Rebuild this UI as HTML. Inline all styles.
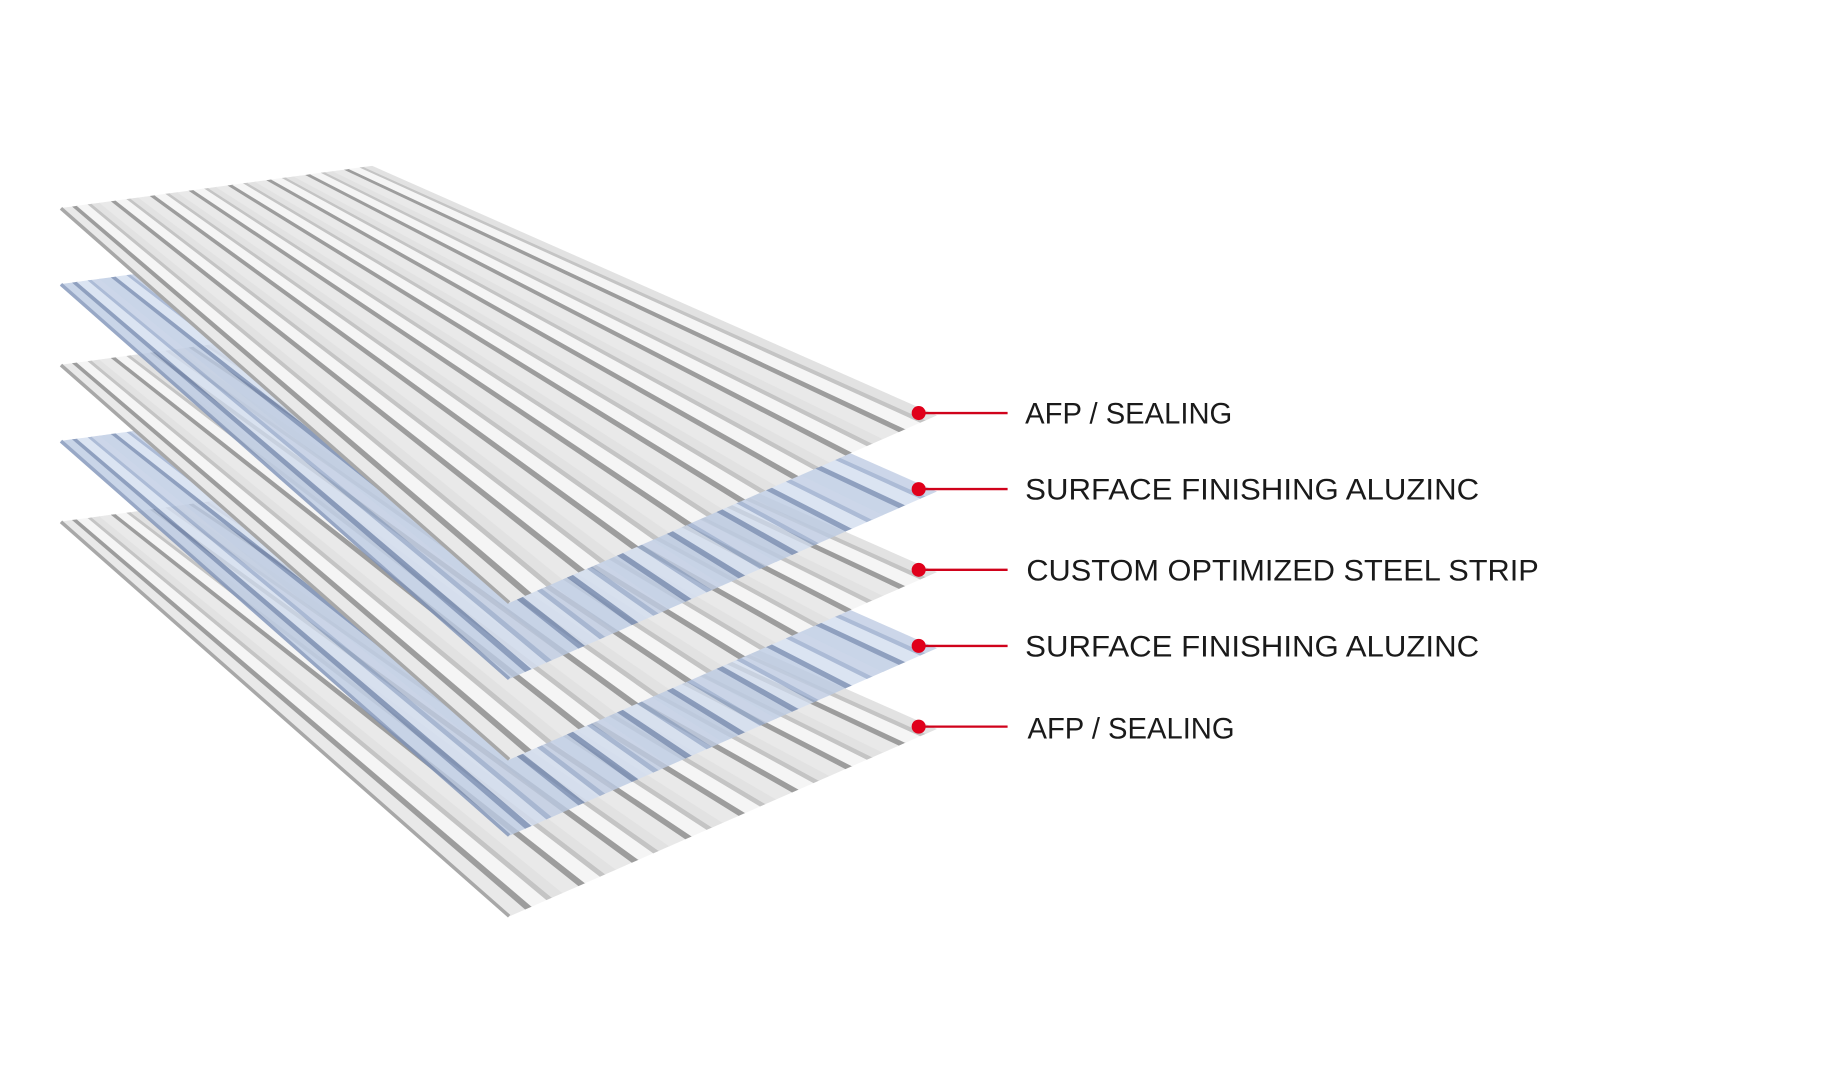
<!DOCTYPE html>
<html><head><meta charset="utf-8"><style>
html,body{margin:0;padding:0;background:#fff;}
svg{display:block;}
</style></head><body>
<svg id="s" width="1835" height="1080" viewBox="0 0 1568 923" xmlns="http://www.w3.org/2000/svg">
<g id="sheets"></g>
<g font-family="'Liberation Sans', Arial, sans-serif" font-size="25" fill="#1a1a1a">
<line x1="786" y1="353" x2="861" y2="353" stroke="#d0021b" stroke-width="2"/>
<circle cx="785" cy="353" r="6" fill="#e0001b"/>
<text x="876" y="362" textLength="177" lengthAdjust="spacingAndGlyphs">AFP / SEALING</text>
<line x1="786" y1="418" x2="861" y2="418" stroke="#d0021b" stroke-width="2"/>
<circle cx="785" cy="418" r="6" fill="#e0001b"/>
<text x="876" y="427" textLength="388" lengthAdjust="spacingAndGlyphs">SURFACE FINISHING ALUZINC</text>
<line x1="786" y1="487" x2="861" y2="487" stroke="#d0021b" stroke-width="2"/>
<circle cx="785" cy="487" r="6" fill="#e0001b"/>
<text x="877" y="496" textLength="438" lengthAdjust="spacingAndGlyphs">CUSTOM OPTIMIZED STEEL STRIP</text>
<line x1="786" y1="552" x2="861" y2="552" stroke="#d0021b" stroke-width="2"/>
<circle cx="785" cy="552" r="6" fill="#e0001b"/>
<text x="876" y="561" textLength="388" lengthAdjust="spacingAndGlyphs">SURFACE FINISHING ALUZINC</text>
<line x1="786" y1="621" x2="861" y2="621" stroke="#d0021b" stroke-width="2"/>
<circle cx="785" cy="621" r="6" fill="#e0001b"/>
<text x="878" y="631" textLength="177" lengthAdjust="spacingAndGlyphs">AFP / SEALING</text>
</g>
</svg>
<script>
(function(){
var g=document.getElementById('sheets');var NS='http://www.w3.org/2000/svg';
var dys=[0,65,134,199,268];
function L(a,b,t){return [a[0]+(b[0]-a[0])*t,a[1]+(b[1]-a[1])*t];}
var grey=[[0,0.30,'#e9e9e9'],[0.30,0.42,'#9d9d9d'],[0.42,0.70,'#f5f5f5'],[0.70,0.80,'#c4c4c4'],[0.80,1,'#e2e2e2']];
var blue=[[0,0.30,'#bccbe3'],[0.30,0.42,'#7489b0'],[0.42,0.70,'#d3def0'],[0.70,0.80,'#98abcc'],[0.80,1,'#c0cde4']];
for(var k=4;k>=0;k--){
 var dy=dys[k];
 var BL=[52,178+dy],BR=[318,142+dy],FL=[435,515+dy],FR=[800,355+dy];
 var pal=(k==1||k==3)?blue:grey;
 var op=(k==1||k==3)?0.8:1;
 var grp=document.createElementNS(NS,'g');grp.setAttribute('opacity',op);
 var n=8;
 for(var i=0;i<n;i++){
  for(var j=0;j<pal.length;j++){
   var t0=(i+pal[j][0])/n,t1=(i+pal[j][1])/n;
   var p=[L(BL,BR,t0),L(BL,BR,t1),L(FL,FR,t1),L(FL,FR,t0)];
   var pg=document.createElementNS(NS,'polygon');
   pg.setAttribute('points',p.map(function(q){return q[0].toFixed(1)+','+q[1].toFixed(1);}).join(' '));
   pg.setAttribute('fill',pal[j][2]);pg.setAttribute('stroke',pal[j][2]);pg.setAttribute('stroke-width','0.5');
   grp.appendChild(pg);
  }
 }
 var e=document.createElementNS(NS,'line');
 e.setAttribute('x1',BL[0]);e.setAttribute('y1',BL[1]);e.setAttribute('x2',FL[0]);e.setAttribute('y2',FL[1]);
 e.setAttribute('stroke',(k==1||k==3)?'#7f93b8':'#a8a8a8');e.setAttribute('stroke-width','3');
 grp.appendChild(e);
 g.appendChild(grp);
}
})();
</script>
</body></html>
